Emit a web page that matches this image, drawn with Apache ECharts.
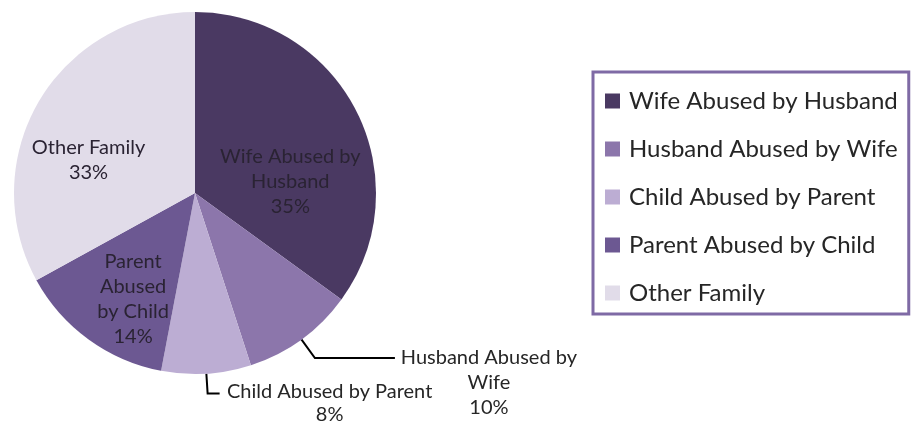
<!DOCTYPE html>
<html>
<head>
<meta charset="utf-8">
<script src="https://cdn.jsdelivr.net/npm/echarts@6/dist/echarts.min.js"></script>
<style>
    html, body { margin: 0; padding: 0; background: #fff; }
    #chart { width: 911px; height: 421px; }
</style>
</head>
<body>
<div id="chart"></div>
<script>
// data
let categories = ['Wife Abused by Husband', 'Husband Abused by Wife', 'Child Abused by Parent', 'Parent Abused by Child', 'Other Family']
let values = [35, 10, 8, 14, 33]
// how each slice label is written (line breaks as in the picture)
let labelTexts = ['Wife Abused by\nHusband', 'Husband Abused by\nWife', 'Child Abused by Parent', 'Parent\nAbused\nby Child', 'Other Family']

let colors = ['#4a3962', '#8c76ab', '#bcadd3', '#6c5892', '#e1dce9']
let font = 'Lato'

// label placement tweaks (inside labels are nudged like Excel does)
let labelStyle = [
    { position: 'inside', dx: 12, dy: 31 },
    { position: 'outside', width: 178, lh: 25, padTop: 50, len: 23, len2: 80 },
    { position: 'outside', width: 210, lh: 23, padTop: 18, len: 20, len2: 12 },
    { position: 'inside', dx: -7, dy: 30 },
    { position: 'inside', dx: -26, dy: 15 }
]

let data = categories.map((name, i) => {
    let s = labelStyle[i]
    let item = {
        name: name,
        value: values[i],
        itemStyle: { color: colors[i] }
    }
    if (s.position === 'outside') {
        item.label = {
            position: 'outside',
            formatter: '{t|' + labelTexts[i].split('\n').join('}\n{t|') + '}\n{t|{d}%}',
            padding: [s.padTop, 0, 0, 0],
            rich: {
                t: { width: s.width, align: 'center', fontFamily: font, fontSize: 20, lineHeight: s.lh, color: '#262626' }
            }
        }
        item.labelLine = { show: true, length: s.len, length2: s.len2 }
    } else {
        item.label = {
            position: 'inside',
            formatter: labelTexts[i] + '\n{d}%'
        }
        item.labelLine = { show: false }
    }
    return item
})

var myChart = echarts.init(document.getElementById('chart'), null, { renderer: 'canvas' })
let option = {
    backgroundColor: '#fff',
    animation: false,
    legend: {
        orient: 'vertical',
        left: 593,
        top: 72,
        padding: [17, 11, 9, 12],
        itemGap: 24,
        itemWidth: 23,
        itemHeight: 15,
        icon: 'path://M0,0h10v10h-10z',
        borderColor: '#7f6aa5',
        borderWidth: 3,
        textStyle: {
            fontFamily: font,
            fontSize: 24,
            lineHeight: 24,
            color: '#262626'
        },
        data: categories
    },
    series: [{
        type: 'pie',
        center: [195, 193],
        radius: [0, 181],
        startAngle: 90,
        clockwise: true,
        avoidLabelOverlap: false,
        label: {
            fontFamily: font,
            fontSize: 20,
            lineHeight: 25,
            color: '#2a2333',
            align: 'center'
        },
        labelLine: {
            smooth: false,
            lineStyle: { color: '#000', width: 2 }
        },
        labelLayout: function(params) {
            let s = labelStyle[params.dataIndex]
            if (s.position === 'inside') {
                return { dx: s.dx, dy: s.dy }
            }
            return {}
        },
        emphasis: { disabled: true },
        data: data
    }]
}
myChart.setOption(option)
window.addEventListener('resize', function() {
    myChart.resize()
})
</script>
</body>
</html>
